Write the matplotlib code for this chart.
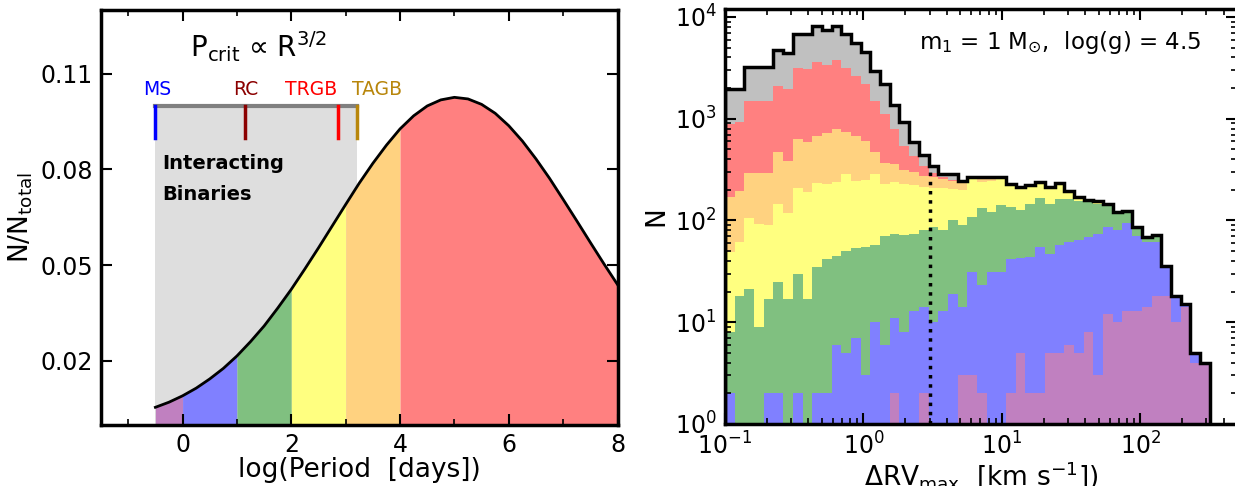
import numpy as np
import matplotlib
matplotlib.use("Agg")
import matplotlib.pyplot as plt
from matplotlib.ticker import MultipleLocator, FixedLocator

# ---- left panel: log-normal period distribution (read every 0.25 dex) ----
log_period = [-0.5, -0.25, 0.0, 0.25, 0.5, 0.75, 1.0, 1.25, 1.5, 1.75,
              2.0, 2.25, 2.5, 2.75, 3.0, 3.25, 3.5, 3.75, 4.0, 4.25,
              4.5, 4.75, 5.0, 5.25, 5.5, 5.75, 6.0, 6.25, 6.5, 6.75,
              7.0, 7.25, 7.5, 7.75, 8.0]
frac = [0.0054, 0.0070, 0.0090, 0.0114, 0.0143, 0.0176, 0.0215, 0.0260, 0.0309, 0.0365,
        0.0424, 0.0488, 0.0554, 0.0622, 0.0690, 0.0757, 0.0819, 0.0876, 0.0927, 0.0968,
        0.0999, 0.1018, 0.1026, 0.1021, 0.1004, 0.0976, 0.0937, 0.0889, 0.0833, 0.0772,
        0.0706, 0.0639, 0.0571, 0.0504, 0.0439]

band_edges = [-0.5, 0, 1, 2, 3, 4, 8]
band_colors = ["#c080c0", "#8080ff", "#80c080", "#ffff80", "#ffd280", "#ff8080"]

crit_names = ["MS", "RC", "TRGB", "TAGB"]
crit_logp = [-0.5, 1.15, 2.86, 3.2]
crit_label_x = [-0.47, 1.16, 2.36, 3.58]
crit_colors = ["blue", "darkred", "red", "darkgoldenrod"]

# ---- right panel: stacked dRV_max histograms, 50 log bins from 0.1 to 10**2.5 km/s ----
n_total = [1955, 1955, 3260, 3260, 3260, 4710, 4400, 6760, 6760, 8110,
           7400, 8220, 6760, 5600, 4570, 2955, 2190, 1380, 927, 595,
           440, 346, 287, 287, 247, 270, 266, 270, 270, 229,
           212, 224, 238, 212, 232, 197, 169, 160, 157, 146,
           121, 125, 86, 69, 72, 36, 18, 15, 5, 4]
n_binary = [887, 920, 1480, 1480, 1480, 2110, 1955, 3185, 3070, 3650,
            3380, 3760, 3185, 2640, 2190, 1500, 1110, 792, 536, 434,
            341, 291, 266, 252, 240, 270, 266, 270, 270, 229,
            212, 224, 238, 212, 232, 197, 169, 160, 157, 146,
            121, 125, 86, 69, 72, 36, 18, 15, 5, 4]
n_logp_lt4 = [169, 197, 293, 293, 293, 468, 387, 632, 586, 681,
              718, 792, 734, 671, 608, 468, 365, 360, 314, 298,
              276, 266, 256, 247, 238, 264, 258, 264, 264, 229,
              212, 224, 238, 212, 232, 197, 169, 160, 157, 146,
              121, 125, 86, 69, 72, 36, 18, 15, 5, 4]
n_logp_lt3 = [49, 61, 106, 93, 91, 144, 118, 209, 190, 232,
              229, 238, 287, 247, 252, 287, 229, 238, 229, 224,
              212, 209, 209, 205, 200, 256, 238, 247, 256, 225,
              212, 224, 234, 212, 229, 197, 169, 160, 157, 146,
              121, 125, 86, 69, 72, 36, 18, 15, 5, 4]
n_logp_lt2 = [8, 18, 21, 9, 17, 25, 17, 30, 17, 35,
              42, 45, 50, 54, 55, 58, 70, 74, 72, 74,
              81, 87, 81, 102, 91, 108, 132, 121, 143, 137,
              128, 146, 167, 146, 163, 163, 157, 151, 146, 140,
              118, 118, 83, 66, 70, 36, 18, 15, 5, 4]
n_logp_lt1 = [2, 0, 0, 0, 2, 2, 0, 2, 0, 2,
              2, 6, 5, 7, 3, 10, 6, 11, 8, 13,
              14, 10, 13, 19, 14, 31, 23, 31, 31, 42,
              43, 44, 55, 47, 58, 61, 64, 69, 73, 86,
              81, 94, 71, 62, 62, 36, 18, 15, 5, 4]
n_logp_lt0 = [0, 0, 0, 0, 0, 0, 0, 0, 0, 0,
              0, 0, 0, 0, 0, 0, 0, 2, 0, 0,
              2, 0, 0, 0, 3, 3, 2, 0, 0, 2,
              5, 2, 2, 5, 5, 6, 5, 8, 3, 12,
              10, 13, 13, 14, 18, 18, 10, 14, 4, 4]

rv_cut = 3.0  # km/s detection threshold

TICK_SIZE = 17
LABEL_SIZE = 19


def style_axes(ax):
    for s in ax.spines.values():
        s.set_linewidth(2.5)
    ax.tick_params(which="both", direction="in", top=True, right=True,
                   labelsize=TICK_SIZE, pad=6)
    ax.tick_params(which="major", length=8, width=1.5)
    ax.tick_params(which="minor", length=4, width=1.2)


fig = plt.figure(figsize=(12.35, 4.86), dpi=100)
ax1 = fig.add_axes([0.0818, 0.1265, 0.4182, 0.853])
ax2 = fig.add_axes([0.587, 0.1276, 0.4148, 0.854])

# ---- left panel ----
x = np.array(log_period)
y = np.array(frac)
ax1.fill_between([crit_logp[0], crit_logp[-1]], 0, 0.1, color="#dedede", lw=0, zorder=0)
for lo, hi, c in zip(band_edges[:-1], band_edges[1:], band_colors):
    m = (x >= lo) & (x <= hi)
    ax1.fill_between(x[m], 0, y[m], color=c, lw=0, zorder=1)
ax1.plot(x, y, color="k", lw=2, zorder=3)

ax1.plot([crit_logp[0], crit_logp[-1]], [0.1, 0.1], color="gray", lw=3, zorder=2)
for xp, xl, name, c in zip(crit_logp, crit_label_x, crit_names, crit_colors):
    ax1.plot([xp, xp], [0.09, 0.1], color=c, lw=2.5, zorder=3)
    ax1.text(xl, 0.1033, name, color=c, fontsize=13.5, ha="center", va="baseline")

ax1.text(1.4, 0.1185, "P$_{\\rm crit}$ \u221d R$^{3/2}$", fontsize=20,
         ha="center", va="center")
ax1.text(-0.38, 0.0801, "Interacting", fontsize=14, fontweight="bold", va="baseline")
ax1.text(-0.38, 0.0704, "Binaries", fontsize=14, fontweight="bold", va="baseline")

ax1.set_xlim(-1.5, 8)
ax1.set_ylim(0, 0.13)
ax1.xaxis.set_major_locator(FixedLocator([0, 2, 4, 6, 8]))
ax1.xaxis.set_minor_locator(MultipleLocator(1))
ax1.yaxis.set_major_locator(FixedLocator([0.02, 0.05, 0.08, 0.11]))
ax1.set_xlabel("log(Period  [days])", fontsize=LABEL_SIZE, labelpad=0)
ax1.set_ylabel(r"N/N$_{\rm total}$", fontsize=LABEL_SIZE)
style_axes(ax1)

# ---- right panel ----
edges = np.logspace(-1, 2.5, len(n_total) + 1)
ax2.set_xscale("log")
ax2.set_yscale("log")
layers = [(n_total, "#c0c0c0"), (n_binary, "#ff8080"), (n_logp_lt4, "#ffd280"),
          (n_logp_lt3, "#ffff80"), (n_logp_lt2, "#80c080"), (n_logp_lt1, "#8080ff"),
          (n_logp_lt0, "#c080c0")]
for vals, c in layers:
    ax2.stairs(vals, edges, fill=True, color=c, baseline=0, lw=0)
ax2.stairs(n_total, edges, color="k", lw=2.5, baseline=0, zorder=4)

i_cut = np.searchsorted(edges, rv_cut) - 1
ax2.vlines(rv_cut, 1, n_total[i_cut], colors="k", linestyles=":", lw=2.5, zorder=5)

ax2.text(0.93, 0.92, r"m$_1$ = 1 M$_{\odot}$,  log(g) = 4.5", transform=ax2.transAxes,
         fontsize=16.5, ha="right", va="center")

ax2.set_xlim(0.1, 500)
ax2.set_ylim(1, 1.2e4)
ax2.set_xlabel(r"$\Delta$RV$_{\rm max}$  [km s$^{-1}$])", fontsize=LABEL_SIZE, labelpad=0)
ax2.set_ylabel("N", fontsize=LABEL_SIZE)
style_axes(ax2)

fig.savefig("out.png", dpi=100)
